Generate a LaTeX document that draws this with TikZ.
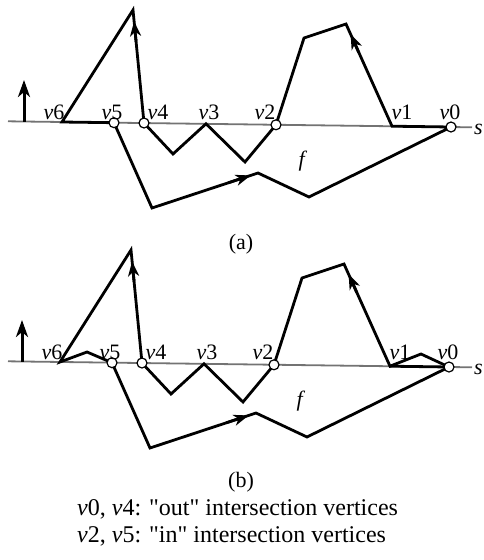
\documentclass[tikz,border=0pt]{standalone}
\usepackage{fontspec}
\setmainfont{Liberation Serif}[Ligatures=TeXOff]
\usetikzlibrary{arrows.meta,calc}
\begin{document}
\begin{tikzpicture}[x=1pt,y=-1pt,
  sline/.style={draw=black!55,line width=1.8pt},
  poly/.style={draw=black,line width=2.8pt,line join=miter},
  vert/.style={circle,draw=black,fill=white,line width=1.2pt,inner sep=0pt,minimum size=10pt},
  tip/.style={draw=black,line width=2.8pt,-{Stealth[length=15pt,width=11pt,inset=4.5pt]}},
  upar/.style={draw=black,line width=3pt,-{Stealth[length=17pt,width=12pt,inset=5pt]}},
  lab/.style={inner sep=0pt,anchor=base,font=\fontsize{22}{26}\selectfont},
  txt/.style={inner sep=0pt,anchor=base west,font=\fontsize{24}{28}\selectfont}]
\useasboundingbox (0,0) rectangle (484,560);

% ---------------- (a) ----------------
\begin{scope}
\coordinate (sL) at (8,121.3);
\coordinate (sR) at (472,127.3);
\draw[sline] (sL) -- (sR);
\node[lab] (slab) at (478.5,134) {\textit{s}};
\coordinate (arB) at (24,121.5);
\coordinate (arT) at (24,80);
\draw[upar] (arB) -- (arT);

\coordinate (v6) at (62,122);
\coordinate (apL) at (133,10);
\coordinate (v5) at (114,122.7);
\coordinate (b1) at (152,208);
\coordinate (m1) at (258,173);
\coordinate (b2) at (309,197);
\coordinate (v0) at (451,127);
\coordinate (v1) at (392,126.2);
\coordinate (tR) at (346,24);
\coordinate (tL) at (304,38);
\coordinate (v2) at (276,124.8);
\coordinate (z1) at (245,162);
\coordinate (v3) at (206,123.8);
\coordinate (z2) at (173,154);
\coordinate (v4) at (144,123);

\draw[poly] (v6) -- (v5) -- (b1) -- (m1) -- (b2) -- (v0) -- (v1) -- (tR) -- (tL) -- (v2) -- (z1) -- (v3) -- (z2) -- (v4) -- (apL) -- cycle;
\draw[tip] ($(v4)!0.72!(apL)$) -- ($(v4)!0.90!(apL)$);
\draw[tip] ($(v1)!0.72!(tR)$) -- ($(v1)!0.90!(tR)$);
\draw[tip] ($(b1)!0.72!(m1)$) -- ($(b1)!0.93!(m1)$);

\node[vert] (c5) at (v5) {};
\node[vert] (c4) at (v4) {};
\node[vert] (c2) at (v2) {};
\node[vert] (c0) at (v0) {};

\node[lab] (l6) at (54,119) {\textit{v}6};
\node[lab] (l5) at (112,119) {\textit{v}5};
\node[lab] (l4) at (158,119) {\textit{v}4};
\node[lab] (l3) at (209,119) {\textit{v}3};
\node[lab] (l2) at (265,119) {\textit{v}2};
\node[lab] (l1) at (402,119) {\textit{v}1};
\node[lab] (l0) at (450,119) {\textit{v}0};
\node[lab] (fa) at (303,166) {\textit{f}};
\node[lab] (capa) at (241,249) {(a)};
\end{scope}

% ---------------- (b) ----------------
\begin{scope}[shift={(-2,240)}]
\coordinate (sL) at (10,121.3);
\coordinate (sR) at (474,127.3);
\draw[sline] (sL) -- (sR);
\node[lab] (slab) at (480.5,134) {\textit{s}};
\coordinate (arB) at (24,121.5);
\coordinate (arT) at (24,80);
\draw[upar] (arB) -- (arT);

\coordinate (v6) at (62,122);
\coordinate (p6) at (89,112);
\coordinate (apL) at (133,10);
\coordinate (v5) at (114,122.7);
\coordinate (b1) at (152,208);
\coordinate (m1) at (258,173);
\coordinate (b2) at (309,197);
\coordinate (v0) at (451,127);
\coordinate (p1) at (423,114);
\coordinate (v1) at (392,126.2);
\coordinate (tR) at (346,24);
\coordinate (tL) at (304,38);
\coordinate (v2) at (276,124.8);
\coordinate (z1) at (245,162);
\coordinate (v3) at (206,123.8);
\coordinate (z2) at (173,154);
\coordinate (v4) at (144,123);

\draw[poly] (v6) -- (p6) -- (v5) -- (b1) -- (m1) -- (b2) -- (v0) -- (p1) -- (v1) -- (tR) -- (tL) -- (v2) -- (z1) -- (v3) -- (z2) -- (v4) -- (apL) -- cycle;
\draw[poly] (v1) -- (v0);
\draw[tip] ($(v4)!0.72!(apL)$) -- ($(v4)!0.90!(apL)$);
\draw[tip] ($(v1)!0.72!(tR)$) -- ($(v1)!0.90!(tR)$);
\draw[tip] ($(b1)!0.72!(m1)$) -- ($(b1)!0.93!(m1)$);

\node[vert] (c5) at (v5) {};
\node[vert] (c4) at (v4) {};
\node[vert] (c2) at (v2) {};
\node[vert] (c0) at (v0) {};

\node[lab] (l6) at (54,119) {\textit{v}6};
\node[lab] (l5) at (112,119) {\textit{v}5};
\node[lab] (l4) at (158,119) {\textit{v}4};
\node[lab] (l3) at (209,119) {\textit{v}3};
\node[lab] (l2) at (265,119) {\textit{v}2};
\node[lab] (l1) at (402,119) {\textit{v}1};
\node[lab] (l0) at (450,119) {\textit{v}0};
\node[lab] (fb) at (303,166) {\textit{f}};
\node[lab] (capb) at (243,247) {(b)};
\end{scope}

\node[txt] (t1) at (77,515) {\textit{v}0, \textit{v}4: "out" intersection vertices};
\node[txt] (t2) at (77,542) {\textit{v}2, \textit{v}5: "in" intersection vertices};
\end{tikzpicture}
\end{document}
